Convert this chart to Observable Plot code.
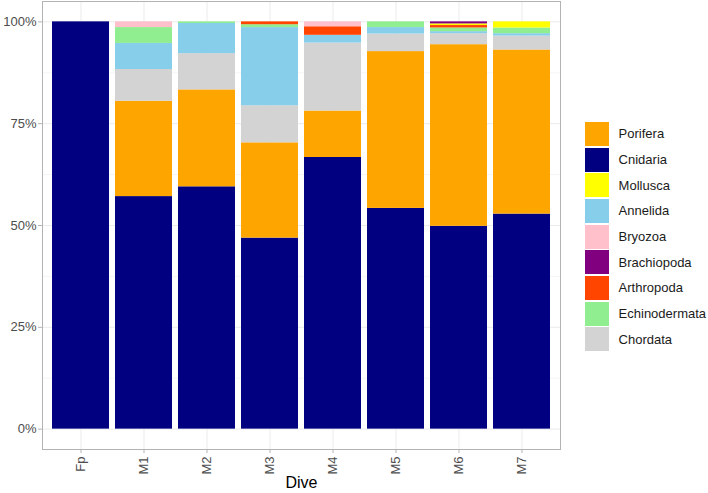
<!DOCTYPE html>
<html>
<head>
<meta charset="utf-8">
<script src="https://cdn.jsdelivr.net/npm/d3@7"></script>
<script src="https://cdn.jsdelivr.net/npm/@observablehq/plot@0.6"></script>
<style>
  html, body { margin: 0; padding: 0; background: #fff; }
  #wrap { position: relative; width: 708px; height: 493px; font-family: "Liberation Sans", Arial, sans-serif; }
  #wrap svg g[aria-label="y-axis tick"] path, #wrap svg g[aria-label="x-axis tick"] path { stroke: #B3B3B3; }
  #legend { position: absolute; left: 585px; top: 121px; font-size: 13px; color: #1a1a1a; }
  .row { display: flex; align-items: center; height: 25.7px; }
  .sw { width: 23.6px; height: 24px; margin-right: 10px; }
</style>
</head>
<body>
<div id="wrap"></div>
<script>
// Categories
const dives = ["Fp", "M1", "M2", "M3", "M4", "M5", "M6", "M7"];
// Legend order and colours
const taxa = ["Porifera", "Cnidaria", "Mollusca", "Annelida", "Bryozoa", "Brachiopoda", "Arthropoda", "Echinodermata", "Chordata"];
const taxaColors = ["#FFA500", "#000080", "#FFFF00", "#87CEEB", "#FFC0CB", "#800080", "#FF4500", "#90EE90", "#D3D3D3"];
// Stacking order (bottom to top)
const stackOrder = ["Cnidaria", "Porifera", "Chordata", "Annelida", "Echinodermata", "Arthropoda", "Mollusca", "Bryozoa", "Brachiopoda"];
// Proportions per dive (Fp, M1..M7)
const cnidaria      = [1.000, 0.571, 0.595, 0.469, 0.667, 0.542, 0.498, 0.528];
const porifera      = [0.000, 0.234, 0.238, 0.234, 0.114, 0.385, 0.446, 0.403];
const chordata      = [0.000, 0.078, 0.089, 0.091, 0.167, 0.043, 0.027, 0.034];
const annelida      = [0.000, 0.064, 0.074, 0.192, 0.019, 0.016, 0.005, 0.006];
const echinodermata = [0.000, 0.039, 0.004, 0.007, 0.000, 0.014, 0.009, 0.014];
const arthropoda    = [0.000, 0.000, 0.000, 0.007, 0.021, 0.000, 0.006, 0.000];
const mollusca      = [0.000, 0.000, 0.000, 0.000, 0.000, 0.000, 0.004, 0.015];
const bryozoa       = [0.000, 0.014, 0.000, 0.000, 0.012, 0.000, 0.000, 0.000];
const brachiopoda   = [0.000, 0.000, 0.000, 0.000, 0.000, 0.000, 0.005, 0.000];
// Tick values
const yTicks = [0, 0.25, 0.5, 0.75, 1];
const yMinor = [0.125, 0.375, 0.625, 0.875];
const xTitle = "Dive";

const series = {
  Cnidaria: cnidaria, Porifera: porifera, Chordata: chordata, Annelida: annelida,
  Echinodermata: echinodermata, Arthropoda: arthropoda, Mollusca: mollusca,
  Bryozoa: bryozoa, Brachiopoda: brachiopoda
};
const data = [];
dives.forEach((d, i) => {
  stackOrder.forEach(t => {
    data.push({dive: d, taxon: t, value: series[t][i]});
  });
});

const plot = Plot.plot({
  width: 708,
  height: 493,
  marginLeft: 42,
  marginRight: 148,
  marginTop: 1,
  marginBottom: 44,
  style: {fontFamily: '"Liberation Sans", Arial, sans-serif', fontSize: "13px", color: "#4D4D4D", background: "white", overflow: "visible"},
  x: {domain: dives, paddingInner: 0.1, paddingOuter: 0.15, label: null, tickRotate: -90, tickSize: 4, tickPadding: 3},
  y: {domain: [-0.05, 1.05], label: null, ticks: yTicks, tickFormat: d => Math.round(d * 100) + "%", tickSize: 4, tickPadding: 2},
  color: {domain: taxa, range: taxaColors},
  marks: [
    Plot.ruleY(yMinor, {stroke: "#EFEFEF", strokeWidth: 0.6}),
    Plot.ruleY(yTicks, {stroke: "#E6E6E6", strokeWidth: 0.8}),
    Plot.ruleX(dives, {x: d => d, stroke: "#E6E6E6", strokeWidth: 0.8}),
    Plot.barY(data, {x: "dive", y: "value", fill: "taxon", order: stackOrder}),
    Plot.frame({stroke: "#B3B3B3", strokeWidth: 1}),
    Plot.text([xTitle], {frameAnchor: "bottom", dy: 38, text: d => d, fontSize: 16, fill: "black"})
  ]
});

const wrap = document.getElementById("wrap");
wrap.appendChild(plot);

// Legend built from the colour scale
const color = plot.scale("color");
const legend = document.createElement("div");
legend.id = "legend";
color.domain.forEach((t, i) => {
  const row = document.createElement("div");
  row.className = "row";
  const sw = document.createElement("div");
  sw.className = "sw";
  sw.style.background = color.range[i];
  const lab = document.createElement("span");
  lab.textContent = t;
  row.appendChild(sw);
  row.appendChild(lab);
  legend.appendChild(row);
});
wrap.appendChild(legend);
</script>
</body>
</html>
